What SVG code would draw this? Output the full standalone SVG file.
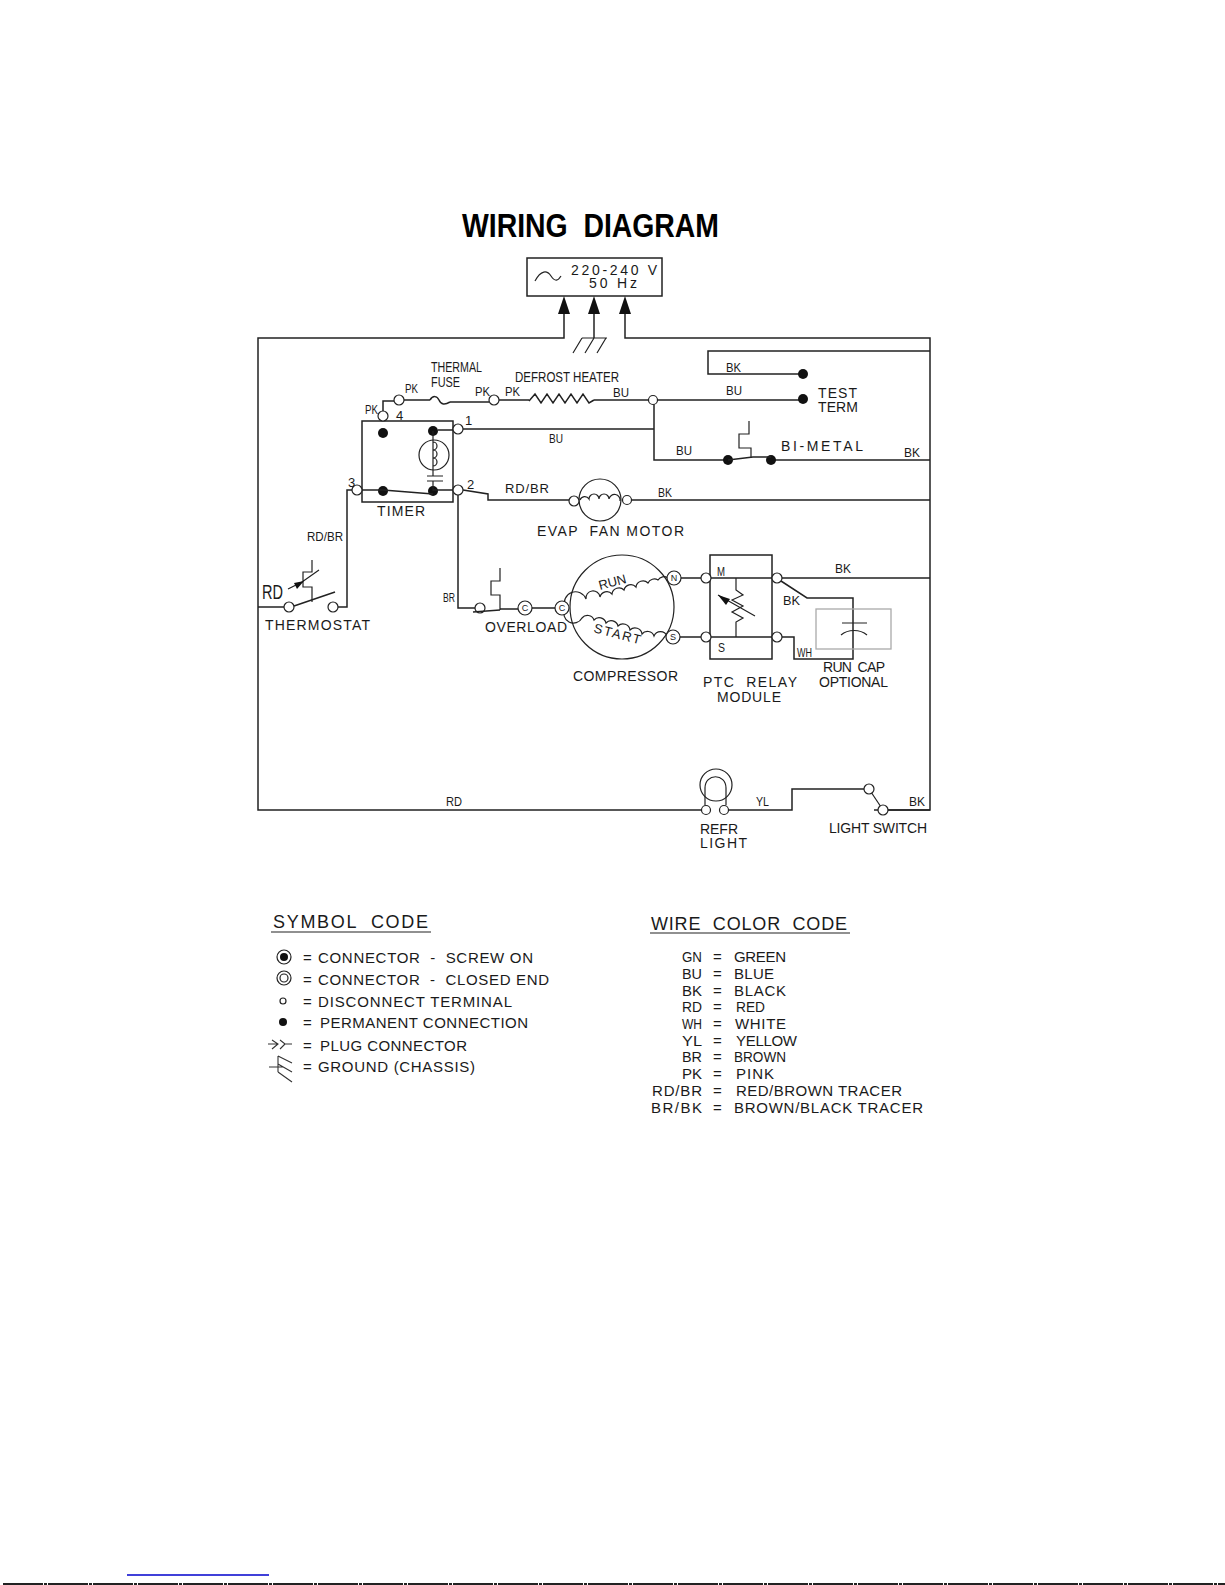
<svg xmlns="http://www.w3.org/2000/svg" width="1225" height="1585" viewBox="0 0 1225 1585">
<style>
text{font-family:"Liberation Sans",Arial,sans-serif;font-size:14px;fill:#1a1a1a;white-space:pre}
.w{font-size:13px}
.leg{font-size:15px}
.head{font-size:18px}
.sm{font-size:9px;text-anchor:middle}
.title{font-size:33px;font-weight:bold;fill:#000}
.l{fill:none;stroke:#222;stroke-width:1.5}
.t{fill:none;stroke:#222;stroke-width:1.2}
.thin{fill:none;stroke:#333;stroke-width:1.1}
circle.o{fill:#fff;stroke:#222;stroke-width:1.2}
circle.d{fill:#111;stroke:none}
</style>
<rect width="1225" height="1585" fill="#fff"/>
<text class="title" x="462" y="237" textLength="257" lengthAdjust="spacingAndGlyphs" xml:space="preserve">WIRING  DIAGRAM</text>

<g id="connectors">
<path class="l" d="M564 314V338H258V810H701"/>
<path class="l" d="M594 314V338"/>
<path class="l" d="M625 314V338H930V810H888"/>
<path class="l" d="M930 351H708V374H803"/>
<path class="l" d="M383 411V401H394M404 400H430M450 402H489M499 400H529M594 400H803"/>
<path class="l" d="M463 429H654M654 400V460H728M771 460H930"/>
<path class="l" d="M463 490L488 494V500H569M627 500H930"/>
<path class="l" d="M458 495V608H475"/>
<path class="l" d="M352 490H347V607H338"/>
<path class="l" d="M258 607H284"/>
<path class="l" d="M500 609H518M532 608H555"/>
<path class="l" d="M681 578H701M680 637H701"/>
<path class="l" d="M777 578H930M781 581L807 598H853V659H794V637H782"/>
<path class="l" d="M729 810H792V789H864M874 810H930"/>
</g>

<g id="source">
<rect class="l" x="527" y="258" width="135" height="38"/>
<path class="t" d="M535 281C541 270 547 270 551 276C555 282 558 281 561 276"/>
<text x="571" y="275" textLength="86">220-240 V</text>
<text x="589" y="288" textLength="48">50 Hz</text>
<path d="M558 314L564 296L570 314ZM588 314L594 296L600 314ZM619 314L625 296L631 314Z" fill="#111"/>
</g>
<g id="ground">
<path class="t" d="M582 338H607M582 338L573 353M594 338L585 353M606 338L597 353"/>
</g>

<g id="thermal-fuse">
<path class="l" d="M430 400C433 395 437 396 439 400C441 405 445 405 450 402"/>
<text x="431" y="372" textLength="51" lengthAdjust="spacingAndGlyphs">THERMAL</text>
<text x="431" y="387" textLength="29" lengthAdjust="spacingAndGlyphs">FUSE</text>
<circle class="o" cx="399" cy="400" r="5"/>
<circle class="o" cx="494" cy="400" r="5"/>
<text class="w" x="405" y="393" textLength="13" lengthAdjust="spacingAndGlyphs">PK</text>
<text class="w" x="475" y="396" textLength="15" lengthAdjust="spacingAndGlyphs">PK</text>
<text class="w" x="505" y="396" textLength="15" lengthAdjust="spacingAndGlyphs">PK</text>
<text class="w" x="365" y="414" textLength="13" lengthAdjust="spacingAndGlyphs">PK</text>
</g>
<g id="defrost-heater">
<path class="l" d="M529 401L535 394L541 403L547 394L553 403L559 394L565 403L571 394L577 403L583 394L589 403L594 400"/>
<text x="515" y="382" textLength="104" lengthAdjust="spacingAndGlyphs">DEFROST HEATER</text>
<text class="w" x="613" y="397" textLength="16" lengthAdjust="spacingAndGlyphs">BU</text>
<circle class="o" cx="653" cy="400" r="4.5"/>
</g>
<g id="test-term">
<circle class="d" cx="803" cy="374" r="5"/>
<circle class="d" cx="803" cy="399" r="5"/>
<text class="w" x="726" y="372" textLength="15" lengthAdjust="spacingAndGlyphs">BK</text>
<text class="w" x="726" y="395" textLength="16" lengthAdjust="spacingAndGlyphs">BU</text>
<text x="818" y="398" textLength="39">TEST</text>
<text x="818" y="412" textLength="40">TERM</text>
</g>
<g id="bi-metal">
<circle class="d" cx="728" cy="460" r="5"/>
<circle class="d" cx="771" cy="460" r="5"/>
<path class="l" d="M728 460L753 457H771"/>
<path class="t" d="M749 421V434H739V448H751V458"/>
<text class="w" x="676" y="455" textLength="16" lengthAdjust="spacingAndGlyphs">BU</text>
<text x="781" y="451" textLength="82">BI-METAL</text>
<text class="w" x="904" y="457" textLength="16" lengthAdjust="spacingAndGlyphs">BK</text>
</g>
<g id="timer">
<rect class="l" x="362" y="421" width="91" height="81"/>
<circle class="o" cx="383" cy="416" r="5"/>
<circle class="o" cx="458" cy="429" r="5"/>
<circle class="o" cx="458" cy="490" r="5"/>
<circle class="o" cx="357" cy="490" r="5"/>
<circle class="d" cx="383" cy="433" r="5"/>
<circle class="d" cx="433" cy="431" r="5"/>
<circle class="d" cx="383" cy="491" r="5"/>
<circle class="d" cx="433" cy="491" r="5"/>
<path class="l" d="M362 490H383L433 494M433 490H453M438 430H453"/>
<circle class="t" cx="434" cy="455" r="15"/>
<path class="t" d="M433 431V476M433 442A4 4 0 0 1 433 450A4 4 0 0 1 433 458A4 4 0 0 1 433 466M427 476H443M427 481H443M433 481V491"/>
<text class="w" x="396" y="420">4</text>
<text class="w" x="465" y="425">1</text>
<text class="w" x="467" y="489">2</text>
<text class="w" x="348" y="487">3</text>
<text x="377" y="516" textLength="48">TIMER</text>
<text class="w" x="549" y="443" textLength="14" lengthAdjust="spacingAndGlyphs">BU</text>
</g>
<g id="evap-fan-motor">
<circle class="t" cx="600" cy="500" r="21"/>
<path class="t" d="M580 500A5 5 0 0 1 589 499A5 5 0 0 1 599 499A5 5 0 0 1 609 499A5 5 0 0 1 620 501"/>
<circle class="o" cx="574" cy="501" r="5"/>
<circle class="o" cx="627" cy="500" r="4.5"/>
<text class="w" x="505" y="493" textLength="44">RD/BR</text>
<text class="w" x="658" y="497" textLength="14" lengthAdjust="spacingAndGlyphs">BK</text>
<text x="537" y="536" textLength="147" xml:space="preserve">EVAP  FAN MOTOR</text>
</g>
<g id="thermostat">
<circle class="o" cx="289" cy="607" r="5"/>
<circle class="o" cx="333" cy="607" r="5"/>
<path class="l" d="M294 606L335 592"/>
<path class="t" d="M312 560V572H303V587H312V602M302 582L319 570M288 589L302 582"/>
<path d="M304 581L294 583L297 589Z" fill="#111"/>
<text class="w" x="307" y="541" textLength="36" lengthAdjust="spacingAndGlyphs">RD/BR</text>
<text style="font-size:20px" x="262" y="599" textLength="21" lengthAdjust="spacingAndGlyphs">RD</text>
<text x="265" y="630" textLength="105">THERMOSTAT</text>
</g>
<g id="overload">
<circle class="o" cx="480" cy="608" r="5"/>
<path class="l" d="M473 612L500 610"/>
<path class="t" d="M500 568V581H491V595H500V610"/>
<circle class="o" cx="525" cy="608" r="7"/>
<text class="sm" x="525" y="611">C</text>
<text class="w" x="443" y="602" textLength="12" lengthAdjust="spacingAndGlyphs">BR</text>
<text x="485" y="632" textLength="82">OVERLOAD</text>
</g>
<g id="compressor">
<circle class="t" cx="622" cy="607" r="52"/>
<path class="t" d="M565 607A7 7 0 0 1 586 599A7 7 0 0 1 600 597A7 7 0 0 1 612 594A7 7 0 0 1 624 590A7 7 0 0 1 636 587A7 7 0 0 1 648 583A7 7 0 0 1 658 580A7 7 0 0 1 668 578"/>
<path class="t" d="M565 609A7 7 0 0 0 582 618A7 7 0 0 1 594 620A7 7 0 0 1 606 623A7 7 0 0 1 618 626A7 7 0 0 1 630 630A7 7 0 0 1 642 634A7 7 0 0 1 654 636A7 7 0 0 1 667 636"/>
<circle class="o" cx="562" cy="608" r="7"/>
<circle class="o" cx="674" cy="578" r="7"/>
<circle class="o" cx="673" cy="637" r="7"/>
<text class="sm" x="562" y="611">C</text>
<text class="sm" x="674" y="581">N</text>
<text class="sm" x="673" y="640">S</text>
<text class="w" transform="translate(600 590) rotate(-15)" textLength="28">RUN</text>
<text class="w" transform="translate(593 632) rotate(15)" textLength="48">START</text>
<text x="573" y="681" textLength="105">COMPRESSOR</text>
</g>
<g id="ptc-relay-module">
<rect class="l" x="710" y="555" width="62" height="104"/>
<path class="l" d="M711 578H772M711 637H772"/>
<path class="t" d="M736 578V590L743 595L732 600L743 606L732 612L743 618L736 622V637M718 595L755 616"/>
<path d="M718 595L730 599L726 605Z" fill="#111"/>
<circle class="o" cx="706" cy="578" r="5"/>
<circle class="o" cx="706" cy="637" r="5"/>
<circle class="o" cx="777" cy="578" r="5"/>
<circle class="o" cx="777" cy="637" r="5"/>
<text class="w" x="717" y="576" textLength="8" lengthAdjust="spacingAndGlyphs">M</text>
<text class="w" x="718" y="652" textLength="7" lengthAdjust="spacingAndGlyphs">S</text>
<text class="w" x="835" y="573" textLength="16" lengthAdjust="spacingAndGlyphs">BK</text>
<text class="w" x="783" y="605" textLength="17" lengthAdjust="spacingAndGlyphs">BK</text>
<text class="w" x="797" y="657" textLength="15" lengthAdjust="spacingAndGlyphs">WH</text>
<text x="703" y="687" textLength="94" xml:space="preserve">PTC  RELAY</text>
<text x="717" y="702" textLength="64">MODULE</text>
</g>
<g id="run-cap">
<rect x="816" y="609" width="75" height="40" fill="none" stroke="#aaa" stroke-width="1.3"/>
<path class="t" d="M842 623H867M841 635C848 629 860 629 867 635"/>
<text x="823" y="672" textLength="62" xml:space="preserve">RUN  CAP</text>
<text x="819" y="687" textLength="69">OPTIONAL</text>
</g>
<g id="refr-light">
<circle class="t" cx="716" cy="785" r="16"/>
<path class="t" d="M705 805V788C705 773 726 773 726 788V805"/>
<circle class="o" cx="706" cy="810" r="4.5"/>
<circle class="o" cx="724" cy="810" r="4.5"/>
<text class="w" x="446" y="806" textLength="16" lengthAdjust="spacingAndGlyphs">RD</text>
<text class="w" x="756" y="806" textLength="13" lengthAdjust="spacingAndGlyphs">YL</text>
<text x="700" y="834" textLength="38">REFR</text>
<text x="700" y="848" textLength="47">LIGHT</text>
</g>
<g id="light-switch">
<path class="t" d="M869 789L883 810"/>
<circle class="o" cx="869" cy="789" r="5"/>
<circle class="o" cx="883" cy="810" r="5"/>
<text class="w" x="909" y="806" textLength="16" lengthAdjust="spacingAndGlyphs">BK</text>
<text x="829" y="833" textLength="98" xml:space="preserve">LIGHT SWITCH</text>
</g>

<g id="symbol-code">
<text class="head" x="273" y="928" textLength="155" xml:space="preserve">SYMBOL  CODE</text>
<path class="t" d="M271 932H431"/>
<circle class="t" cx="284" cy="957" r="7"/><circle class="d" cx="284" cy="957" r="4"/>
<circle class="t" cx="284" cy="978" r="7"/><circle class="t" cx="284" cy="978" r="4"/>
<circle class="t" cx="283" cy="1001" r="3"/>
<circle class="d" cx="283" cy="1022" r="4"/>
<path class="thin" d="M268 1044H278M272 1040L278 1044L272 1049M292 1044H285L280 1040M285 1044L280 1049"/>
<path class="thin" d="M269 1067H283M278 1056V1072M278 1056L292 1063M278 1064L292 1072M278 1072L292 1082"/>
<text class="leg" x="303" y="963">=</text><text class="leg" x="318" y="963" textLength="215" xml:space="preserve">CONNECTOR  -  SCREW ON</text>
<text class="leg" x="303" y="985">=</text><text class="leg" x="318" y="985" textLength="231" xml:space="preserve">CONNECTOR  -  CLOSED END</text>
<text class="leg" x="303" y="1007">=</text><text class="leg" x="318" y="1007" textLength="194">DISCONNECT TERMINAL</text>
<text class="leg" x="303" y="1028">=</text><text class="leg" x="320" y="1028" textLength="208">PERMANENT CONNECTION</text>
<text class="leg" x="303" y="1051">=</text><text class="leg" x="320" y="1051" textLength="147">PLUG CONNECTOR</text>
<text class="leg" x="303" y="1072">=</text><text class="leg" x="318" y="1072" textLength="157">GROUND (CHASSIS)</text>
</g>

<g id="wire-color-code">
<text class="head" x="651" y="930" textLength="196" xml:space="preserve">WIRE  COLOR  CODE</text>
<path class="t" d="M650 933H850"/>
<text class="leg" x="682" y="962" textLength="20" lengthAdjust="spacingAndGlyphs">GN</text><text class="leg" x="713" y="962">=</text><text class="leg" x="734" y="962" textLength="52">GREEN</text>
<text class="leg" x="682" y="979" textLength="20" lengthAdjust="spacingAndGlyphs">BU</text><text class="leg" x="713" y="979">=</text><text class="leg" x="734" y="979" textLength="40">BLUE</text>
<text class="leg" x="682" y="996" textLength="20" lengthAdjust="spacingAndGlyphs">BK</text><text class="leg" x="713" y="996">=</text><text class="leg" x="734" y="996" textLength="52">BLACK</text>
<text class="leg" x="682" y="1012" textLength="20" lengthAdjust="spacingAndGlyphs">RD</text><text class="leg" x="713" y="1012">=</text><text class="leg" x="736" y="1012" textLength="29" lengthAdjust="spacingAndGlyphs">RED</text>
<text class="leg" x="682" y="1029" textLength="20" lengthAdjust="spacingAndGlyphs">WH</text><text class="leg" x="713" y="1029">=</text><text class="leg" x="735" y="1029" textLength="51">WHITE</text>
<text class="leg" x="682" y="1046" textLength="20" lengthAdjust="spacingAndGlyphs">YL</text><text class="leg" x="713" y="1046">=</text><text class="leg" x="736" y="1046" textLength="61">YELLOW</text>
<text class="leg" x="682" y="1062" textLength="20" lengthAdjust="spacingAndGlyphs">BR</text><text class="leg" x="713" y="1062">=</text><text class="leg" x="734" y="1062" textLength="52" lengthAdjust="spacingAndGlyphs">BROWN</text>
<text class="leg" x="682" y="1079" textLength="20" lengthAdjust="spacingAndGlyphs">PK</text><text class="leg" x="713" y="1079">=</text><text class="leg" x="736" y="1079" textLength="38">PINK</text>
<text class="leg" x="652" y="1096" textLength="50">RD/BR</text><text class="leg" x="713" y="1096">=</text><text class="leg" x="736" y="1096" textLength="166">RED/BROWN TRACER</text>
<text class="leg" x="651" y="1113" textLength="51">BR/BK</text><text class="leg" x="713" y="1113">=</text><text class="leg" x="734" y="1113" textLength="189">BROWN/BLACK TRACER</text>
</g>

<path d="M127 1575H269" stroke="#0000cc" stroke-width="1.5" fill="none"/>
<path d="M3 1584H1225" stroke="#222" stroke-width="2" stroke-dasharray="40 1 3 1" fill="none"/>
</svg>
